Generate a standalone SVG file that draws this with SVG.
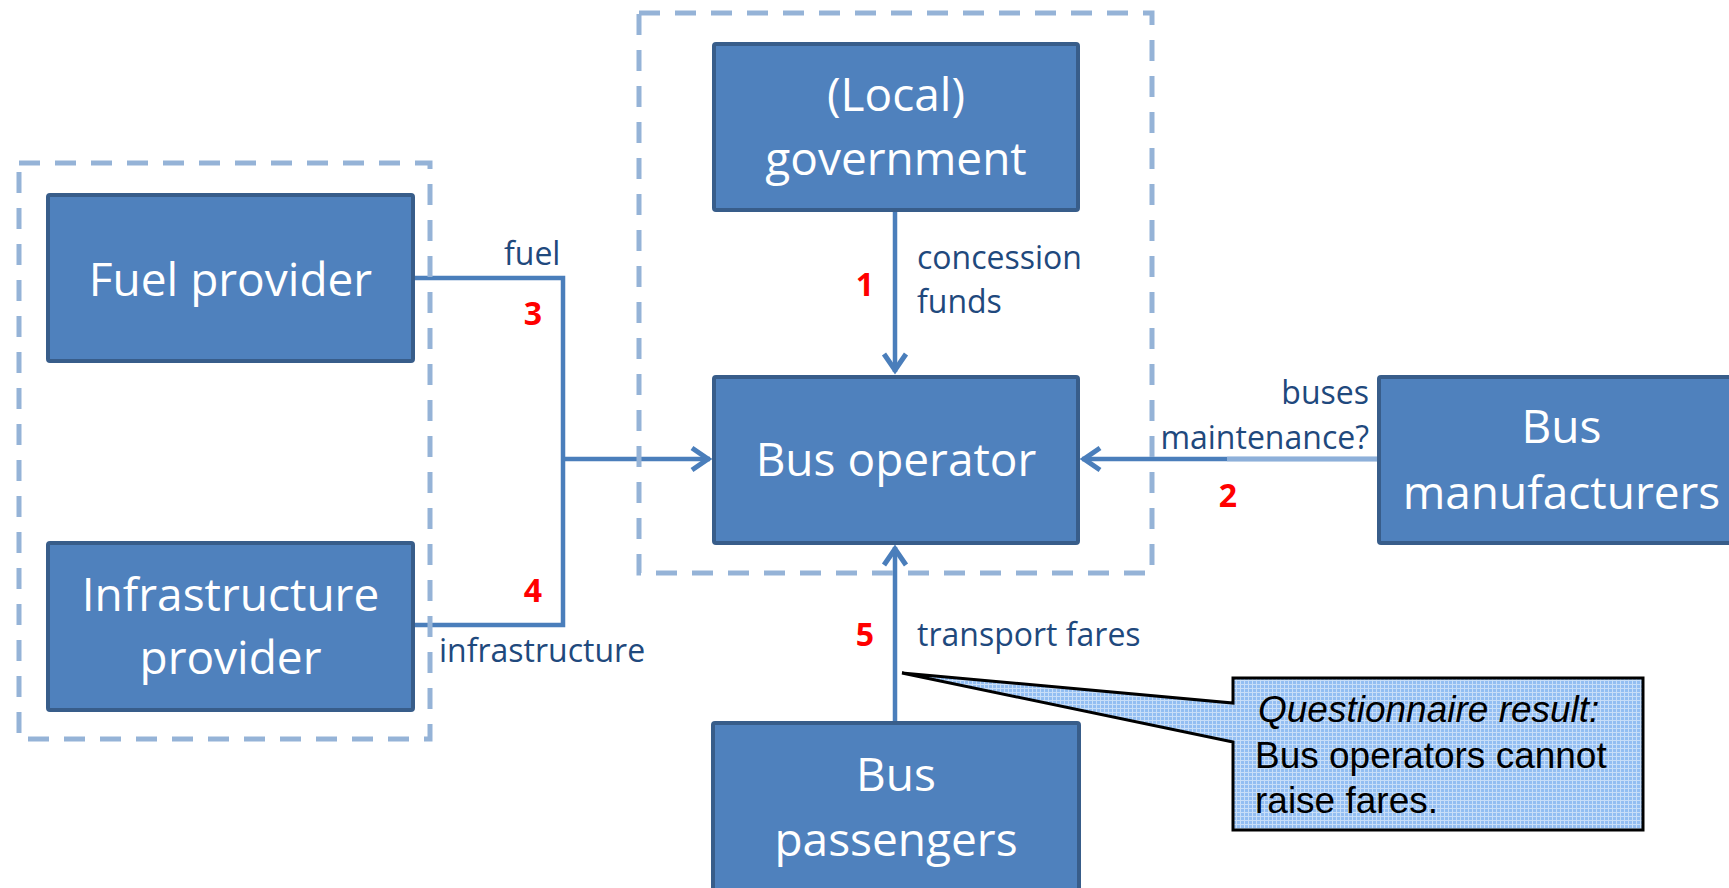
<svg xmlns="http://www.w3.org/2000/svg" width="1729" height="888" viewBox="0 0 1729 888">
<style>
.node rect{fill:#4F81BD;stroke:#385D8A;stroke-width:4}
.nt{font-family:"Open Sans","Noto Sans",sans-serif;font-size:46px;fill:#FFFFFF;text-anchor:middle}
.lbl{font-family:"Open Sans","Noto Sans",sans-serif;font-size:32px;fill:#1F497D}
.num{font-family:"Open Sans","Noto Sans",sans-serif;font-size:32px;font-weight:bold;fill:#FF0000;text-anchor:middle}
.con{fill:none;stroke:#4A7EBB;stroke-width:4.5}
.grp{fill:none;stroke:#95B3D7;stroke-width:5;stroke-dasharray:21 15}
.ct{font-family:"Liberation Sans",Arial,sans-serif;font-size:37px;fill:#000000}
</style>
<defs>
<marker id="arr" markerUnits="userSpaceOnUse" markerWidth="40" markerHeight="40" viewBox="-30 -20 40 40" refX="0" refY="0" orient="auto">
<path d="M-18,-11 L-2,0 L-18,11" fill="none" stroke="#4A7EBB" stroke-width="5"/>
</marker>
<pattern id="grid" width="4" height="4" patternUnits="userSpaceOnUse">
<rect width="4" height="4" fill="#93BEF2"/>
<path d="M0,0.5H4M0.5,0V4" stroke="#C8DEF8" stroke-width="1"/>
</pattern>
</defs>
<rect width="1729" height="888" fill="#FFFFFF"/>

<g id="connectors">
<path class="con" d="M895,210 V372" marker-end="url(#arr)"/>
<path class="con" d="M895,722 V547" marker-end="url(#arr)"/>
<path class="con" d="M1379,459 H1082" marker-end="url(#arr)"/>
<path d="M1227,459 H1377" stroke="#8DB0DA" stroke-width="4.5" fill="none"/>
<path class="con" d="M413,278 H563 V625 H413"/>
<path class="con" d="M563,459 H710" marker-end="url(#arr)"/>
<text class="lbl" x="504" y="265">fuel</text>
<text class="lbl" x="439" y="662">infrastructure</text>
<text class="lbl" x="917" y="269">concession</text>
<text class="lbl" x="917" y="313">funds</text>
<text class="lbl" x="1369" y="404" text-anchor="end">buses</text>
<text class="lbl" x="1369" y="449" text-anchor="end">maintenance?</text>
<text class="lbl" x="917" y="646">transport fares</text>
<text class="num" x="865" y="296">1</text>
<text class="num" x="1228" y="507">2</text>
<text class="num" x="533" y="325">3</text>
<text class="num" x="533" y="602">4</text>
<text class="num" x="865" y="646">5</text>
</g>

<g id="fuel-provider" class="node">
<rect x="48" y="195" width="365" height="166" rx="2"/>
<text class="nt" x="230.5" y="296">Fuel provider</text>
</g>
<g id="infrastructure-provider" class="node">
<rect x="48" y="543" width="365" height="167" rx="2"/>
<text class="nt" x="230.5" y="611">Infrastructure</text>
<text class="nt" x="230.5" y="674">provider</text>
</g>
<g id="local-government" class="node">
<rect x="714" y="44" width="364" height="166" rx="2"/>
<text class="nt" x="896" y="111">(Local)</text>
<text class="nt" x="896" y="175">government</text>
</g>
<g id="bus-operator" class="node">
<rect x="714" y="377" width="364" height="166" rx="2"/>
<text class="nt" x="896" y="476">Bus operator</text>
</g>
<g id="bus-manufacturers" class="node">
<rect x="1379" y="377" width="380" height="166" rx="2"/>
<text class="nt" x="1561.5" y="443">Bus</text>
<text class="nt" x="1561.5" y="509">manufacturers</text>
</g>
<g id="bus-passengers" class="node">
<rect x="713" y="723" width="366" height="190" rx="2"/>
<text class="nt" x="896" y="791">Bus</text>
<text class="nt" x="896" y="856">passengers</text>
</g>

<g id="groups">
<rect class="grp" x="19" y="163" width="411" height="576"/>
<rect class="grp" x="639" y="13" width="513" height="560"/>
</g>

<g id="callout">
<path d="M1233,678 H1643 V830 H1233 V742 L902,673 L1233,703 Z" fill="url(#grid)" stroke="#000000" stroke-width="3" stroke-linejoin="miter"/>
<text class="ct" x="1258" y="722" font-style="italic">Questionnaire result:</text>
<text class="ct" x="1255" y="768">Bus operators cannot</text>
<text class="ct" x="1255" y="813">raise fares.</text>
</g>
</svg>
